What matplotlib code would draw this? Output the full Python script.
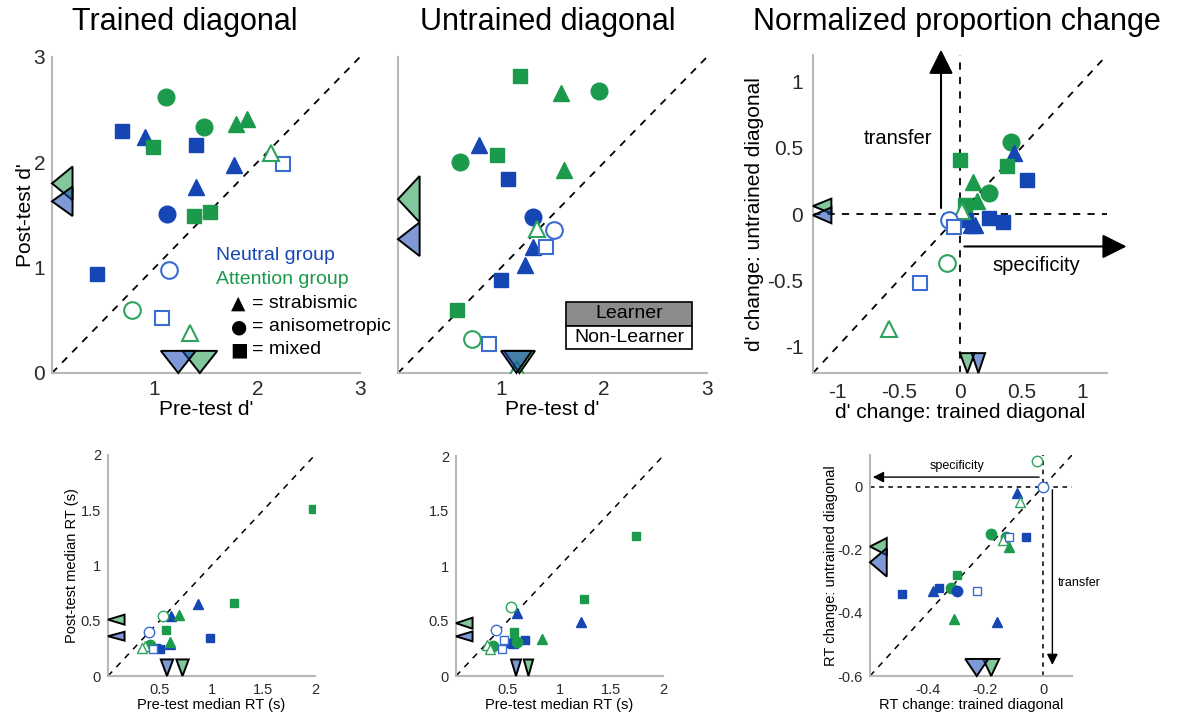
import matplotlib.pyplot as plt
from matplotlib.patches import Rectangle
from matplotlib.colors import to_rgba

plt.rcParams['font.family'] = ['Liberation Sans', 'DejaVu Sans']
plt.rcParams['axes.unicode_minus'] = False

BLUE = '#1546b4'
GREEN = '#1b9a4c'
BLUE_OPEN = '#3b6dd0'
GREEN_OPEN = '#2ea35e'

# codes: first letter N/A = neutral/attention learner (filled), n/a = non-learner (open)
#        second char = marker (s square, o circle, ^ triangle)

# trained diagonal d'
td_pre = [0.68, 1.40, 0.44, 0.91, 1.77, 1.40, 1.12, 1.11, 1.48, 1.79, 1.90, 0.98, 1.38, 1.54,
          1.14, 1.07, 2.25, 0.78, 1.34, 2.13]
td_post = [2.30, 2.16, 0.94, 2.24, 1.97, 1.77, 1.51, 2.62, 2.34, 2.36, 2.41, 2.15, 1.49, 1.53,
           0.98, 0.52, 1.98, 0.60, 0.38, 2.09]
td_code = ['Ns', 'Ns', 'Ns', 'N^', 'N^', 'N^', 'No', 'Ao', 'Ao', 'A^', 'A^', 'As', 'As', 'As',
           'no', 'ns', 'ns', 'ao', 'a^', 'a^']

# untrained diagonal d'
ud_pre = [1.18, 0.96, 0.57, 1.58, 1.61, 1.95, 0.60, 0.79, 1.31, 1.23, 1.07, 1.00, 1.31,
          1.35, 1.16, 1.51, 1.44, 0.88, 0.72]
ud_post = [2.82, 2.07, 0.60, 2.66, 1.93, 2.68, 2.00, 2.16, 1.20, 1.03, 1.84, 0.88, 1.48,
           1.37, 0.04, 1.36, 1.20, 0.28, 0.32]
ud_code = ['As', 'As', 'As', 'A^', 'A^', 'Ao', 'Ao', 'N^', 'N^', 'N^', 'Ns', 'Ns', 'No',
           'a^', 'a^', 'no', 'ns', 'ns', 'ao']

# normalized proportion change
nc_trained = [0.42, 0.24, 0.44, 0.09, 0.12, 0.00, 0.38, 0.04, 0.55, 0.24, 0.35, 0.05, 0.11, 0.14,
              0.02, -0.58, -0.09, -0.05, -0.33, -0.11]
nc_untrained = [0.54, 0.16, 0.46, -0.08, -0.08, 0.41, 0.36, 0.07, 0.26, -0.03, -0.06, -0.045, 0.24, 0.10,
                0.02, -0.87, -0.045, -0.095, -0.52, -0.37]
nc_code = ['Ao', 'Ao', 'N^', 'N^', 'N^', 'As', 'As', 'As', 'Ns', 'Ns', 'Ns', 'Ns', 'A^', 'A^',
           'a^', 'a^', 'no', 'ns', 'ns', 'ao']

# median RT, trained diagonal
rt1_pre = [1.98, 1.22, 0.56, 0.87, 0.61, 0.60, 0.99, 0.50, 0.46, 0.69, 0.60, 0.41,
           0.53, 0.40, 0.36, 0.33, 0.43]
rt1_post = [1.51, 0.66, 0.42, 0.65, 0.54, 0.29, 0.34, 0.24, 0.25, 0.55, 0.31, 0.28,
            0.54, 0.40, 0.27, 0.25, 0.24]
rt1_code = ['As', 'As', 'As', 'N^', 'N^', 'N^', 'Ns', 'Ns', 'Ns', 'A^', 'A^', 'Ao',
            'ao', 'no', 'a^', 'a^', 'ns']

# median RT, untrained diagonal
rt2_pre = [1.74, 1.24, 0.56, 1.21, 0.59, 0.55, 0.83, 0.56, 0.67, 0.52, 0.59, 0.36,
           0.53, 0.39, 0.44, 0.46, 0.30, 0.33]
rt2_post = [1.27, 0.70, 0.40, 0.49, 0.57, 0.30, 0.34, 0.37, 0.33, 0.30, 0.31, 0.27,
            0.63, 0.42, 0.25, 0.33, 0.28, 0.25]
rt2_code = ['As', 'As', 'As', 'N^', 'N^', 'N^', 'A^', 'A^', 'Ns', 'Ns', 'Ao', 'Ao',
            'ao', 'no', 'ns', 'ns', 'a^', 'a^']

# RT change
rc_trained = [-0.09, -0.38, -0.16, -0.06, -0.36, -0.49, -0.18, -0.32, -0.13, -0.12, -0.31, -0.30, -0.30,
              -0.02, 0.00, -0.08, -0.14, -0.12, -0.23]
rc_untrained = [-0.02, -0.33, -0.43, -0.16, -0.32, -0.34, -0.15, -0.32, -0.16, -0.19, -0.42, -0.28, -0.33,
                0.08, 0.00, -0.05, -0.17, -0.16, -0.33]
rc_code = ['N^', 'N^', 'N^', 'Ns', 'Ns', 'Ns', 'Ao', 'Ao', 'Ao', 'A^', 'A^', 'As', 'No',
           'ao', 'no', 'a^', 'a^', 'ns', 'ns']

# group means (attention, neutral) shown as triangles on the axes: mean, half-width
td_post_mean, td_post_hw = [1.80, 1.63], [0.16, 0.14]
td_pre_mean, td_pre_hw = [1.44, 1.23], [0.17, 0.17]
ud_post_mean, ud_post_hw = [1.65, 1.27], [0.22, 0.16]
ud_pre_mean, ud_pre_hw = [1.18, 1.15], [0.15, 0.15]
nc_un_mean, nc_un_hw = [0.06, -0.01], [0.056, 0.06]
nc_tr_mean, nc_tr_hw = [0.06, 0.15], [0.06, 0.055]
rt1_post_mean, rt1_post_hw = [0.51, 0.36], [0.045, 0.04]
rt1_pre_mean, rt1_pre_hw = [0.72, 0.57], [0.06, 0.06]
rt2_post_mean, rt2_post_hw = [0.48, 0.36], [0.05, 0.045]
rt2_pre_mean, rt2_pre_hw = [0.70, 0.58], [0.045, 0.048]
rc_un_mean, rc_un_hw = [-0.19, -0.24], [0.027, 0.045]
rc_tr_mean, rc_tr_hw = [-0.18, -0.23], [0.028, 0.04]

legend_shapes = ['\u25B2', '\u25CF', '\u25A0']
legend_names = ['= strabismic', '= anisometropic', '= mixed']

W, H = 1181, 713
fig = plt.figure(figsize=(W / 100, H / 100), dpi=100)


def make_ax(l, r, t, b):
    return fig.add_axes([l / W, (H - b) / H, (r - l) / W, (b - t) / H])


def style(ax, xlim, ylim, size):
    ax.set_xlim(xlim)
    ax.set_ylim(ylim)
    for s in ['top', 'right']:
        ax.spines[s].set_visible(False)
    for s in ['left', 'bottom']:
        ax.spines[s].set_color('#b8b8b8')
        ax.spines[s].set_linewidth(1.5)
    ax.tick_params(length=0, labelsize=size, colors='#2a2a2a', pad=5)
    ax.patch.set_alpha(0)


def points(ax, xs, ys, codes, big):
    sizes = {'s': 10, 'o': 12, '^': 11.5} if big else {'s': 6, 'o': 7.5, '^': 7.5}
    mew = 1.5 if big else 1.0
    for x, y, c in zip(xs, ys, codes):
        shape = c[1]
        neutral = c[0] in 'Nn'
        if c[0].isupper():
            col = BLUE if neutral else GREEN
            ax.plot(x, y, marker=shape, ms=sizes[shape], mfc=col, mec=col, ls='none', zorder=3)
        else:
            col = BLUE_OPEN if neutral else GREEN_OPEN
            ax.plot(x, y, marker=shape, ms=sizes[shape], mfc='white', mec=col, mew=mew,
                    ls='none', zorder=4)


def means(ax, left_m, left_hw, bot_m, bot_hw, dx, dy):
    x0 = ax.get_xlim()[0]
    y0 = ax.get_ylim()[0]
    fills = [to_rgba(GREEN, 0.55), to_rgba(BLUE, 0.55)]
    for m, h, fc in zip(left_m, left_hw, fills):
        ax.fill([x0, x0 + dx, x0 + dx], [m, m + h, m - h], fc=fc, ec='k', lw=1.4,
                clip_on=False, zorder=6)
    for m, h, fc in zip(bot_m, bot_hw, fills):
        ax.fill([m, m - h, m + h], [y0, y0 + dy, y0 + dy], fc=fc, ec='k', lw=1.4,
                clip_on=False, zorder=6)


def diag(ax, lo, hi, lw=1.3):
    ax.plot([lo, hi], [lo, hi], color='k', ls=(0, (4, 4)), lw=lw, zorder=2)


# ---- top left: trained diagonal
ax1 = make_ax(52, 360, 57, 373)
style(ax1, (0, 3), (0, 3), 15)
diag(ax1, 0, 3)
points(ax1, td_pre, td_post, td_code, True)
means(ax1, td_post_mean, td_post_hw, td_pre_mean, td_pre_hw, 0.2, 0.21)
ax1.set_xticks([1, 2, 3])
ax1.set_yticks([0, 1, 2, 3])
ax1.set_xlabel("Pre-test d'", fontsize=15, labelpad=1)
ax1.set_ylabel("Post-test d'", fontsize=15, labelpad=-1)
ax1.text(1.6, 1.12, 'Neutral group', color=BLUE, fontsize=14, va='center')
ax1.text(1.6, 0.89, 'Attention group', color=GREEN, fontsize=14, va='center')
for i, (sym, name) in enumerate(zip(legend_shapes, legend_names)):
    yy = 0.66 - 0.22 * i
    ax1.text(1.74, yy, sym, fontsize=13.5, va='center', family='DejaVu Sans')
    ax1.text(1.95, yy, name, fontsize=14, va='center')

# ---- top middle: untrained diagonal
ax2 = make_ax(398, 707, 57, 373)
style(ax2, (0, 3), (0, 3), 15)
diag(ax2, 0, 3)
points(ax2, ud_pre, ud_post, ud_code, True)
means(ax2, ud_post_mean, ud_post_hw, ud_pre_mean, ud_pre_hw, 0.21, 0.21)
ax2.set_xticks([1, 2, 3])
ax2.set_yticks([])
ax2.set_xlabel("Pre-test d'", fontsize=15, labelpad=1)
ax2.add_patch(Rectangle((0.544, 0.150), 0.407, 0.076, transform=ax2.transAxes,
                        fc='#8c8c8c', ec='k', lw=1.2, zorder=7))
ax2.add_patch(Rectangle((0.544, 0.075), 0.407, 0.075, transform=ax2.transAxes,
                        fc='white', ec='k', lw=1.2, zorder=7))
ax2.text(0.7475, 0.188, 'Learner', transform=ax2.transAxes, ha='center', va='center',
         fontsize=14, zorder=8)
ax2.text(0.7475, 0.1125, 'Non-Learner', transform=ax2.transAxes, ha='center', va='center',
         fontsize=14, zorder=8)

# ---- top right: normalized proportion change
ax3 = make_ax(813, 1107, 55, 373)
style(ax3, (-1.2, 1.2), (-1.2, 1.2), 15)
ax3.tick_params(pad=7)
diag(ax3, -1.2, 1.2)
ax3.axhline(0, color='k', ls=(0, (4, 4)), lw=1.3, zorder=2)
ax3.axvline(0, color='k', ls=(0, (4, 4)), lw=1.3, zorder=2)
points(ax3, nc_trained, nc_untrained, nc_code, True)
means(ax3, nc_un_mean, nc_un_hw, nc_tr_mean, nc_tr_hw, 0.15, 0.15)
ax3.set_xticks([-1, -0.5, 0, 0.5, 1])
ax3.set_xticklabels(['-1', '-0.5', '0', '0.5', '1'])
ax3.set_yticks([-1, -0.5, 0, 0.5, 1])
ax3.set_yticklabels(['-1', '-0.5', '0', '0.5', '1'])
ax3.set_xlabel("d' change: trained diagonal", fontsize=15, labelpad=1)
ax3.set_ylabel("d' change: untrained diagonal", fontsize=15, labelpad=2)
big_arrow = dict(arrowstyle='-|>,head_length=0.5,head_width=0.25', color='k', lw=1.5,
                 mutation_scale=30, shrinkA=0, shrinkB=0)
ax3.annotate('', xy=(-0.155, 1.24), xytext=(-0.155, 0.045), arrowprops=big_arrow,
             annotation_clip=False)
ax3.annotate('', xy=(1.36, -0.245), xytext=(0.035, -0.245), arrowprops=big_arrow,
             annotation_clip=False)
ax3.text(-0.51, 0.57, 'transfer', fontsize=14.5, ha='center', va='center')
ax3.text(0.62, -0.39, 'specificity', fontsize=14.5, ha='center', va='center')

# ---- bottom left: median RT trained
ax4 = make_ax(108, 315, 455, 676)
style(ax4, (0, 2), (0, 2), 10.5)
diag(ax4, 0, 2, 1.1)
points(ax4, rt1_pre, rt1_post, rt1_code, False)
means(ax4, rt1_post_mean, rt1_post_hw, rt1_pre_mean, rt1_pre_hw, 0.16, 0.15)
ax4.set_xticks([0.5, 1, 1.5, 2])
ax4.set_xticklabels(['0.5', '1', '1.5', '2'])
ax4.set_yticks([0, 0.5, 1, 1.5, 2])
ax4.set_yticklabels(['0', '0.5', '1', '1.5', '2'])
ax4.set_xlabel('Pre-test median RT (s)', fontsize=10.5, labelpad=1)
ax4.set_ylabel('Post-test median RT (s)', fontsize=10.5, labelpad=1)

# ---- bottom middle: median RT untrained
ax5 = make_ax(456, 663, 456, 676)
style(ax5, (0, 2), (0, 2), 10.5)
diag(ax5, 0, 2, 1.1)
points(ax5, rt2_pre, rt2_post, rt2_code, False)
means(ax5, rt2_post_mean, rt2_post_hw, rt2_pre_mean, rt2_pre_hw, 0.16, 0.15)
ax5.set_xticks([0.5, 1, 1.5, 2])
ax5.set_xticklabels(['0.5', '1', '1.5', '2'])
ax5.set_yticks([0, 0.5, 1, 1.5, 2])
ax5.set_yticklabels(['0', '0.5', '1', '1.5', '2'])
ax5.set_xlabel('Pre-test median RT (s)', fontsize=10.5, labelpad=1)

# ---- bottom right: RT change
ax6 = make_ax(870, 1072, 455, 676)
style(ax6, (-0.6, 0.1), (-0.6, 0.1), 10.5)
diag(ax6, -0.6, 0.1, 1.1)
ax6.axhline(0, color='k', ls=(0, (3, 3)), lw=1.1, zorder=2)
ax6.axvline(0, color='k', ls=(0, (3, 3)), lw=1.1, zorder=2)
points(ax6, rc_trained, rc_untrained, rc_code, False)
means(ax6, rc_un_mean, rc_un_hw, rc_tr_mean, rc_tr_hw, 0.058, 0.054)
ax6.set_xticks([-0.4, -0.2, 0])
ax6.set_xticklabels(['-0.4', '-0.2', '0'])
ax6.set_yticks([-0.6, -0.4, -0.2, 0])
ax6.set_yticklabels(['-0.6', '-0.4', '-0.2', '0'])
ax6.set_xlabel('RT change: trained diagonal', fontsize=10.5, labelpad=1)
ax6.set_ylabel('RT change: untrained diagonal', fontsize=10.5, labelpad=0)
small_arrow = dict(arrowstyle='-|>,head_length=0.5,head_width=0.25', color='k', lw=1.0,
                   mutation_scale=13, shrinkA=0, shrinkB=0)
ax6.annotate('', xy=(-0.59, 0.03), xytext=(-0.014, 0.03), arrowprops=small_arrow,
             annotation_clip=False)
ax6.annotate('', xy=(0.032, -0.565), xytext=(0.032, -0.01), arrowprops=small_arrow,
             annotation_clip=False)
ax6.text(-0.30, 0.065, 'specificity', fontsize=9, ha='center', va='center')
ax6.text(0.125, -0.305, 'transfer', fontsize=9, ha='center', va='center')

# titles
fig.text(185 / W, 1 - 22 / H, 'Trained diagonal', fontsize=22, ha='center', va='center')
fig.text(548 / W, 1 - 22 / H, 'Untrained diagonal', fontsize=22, ha='center', va='center')
fig.text(957 / W, 1 - 22 / H, 'Normalized proportion change', fontsize=22, ha='center', va='center')

fig.savefig('out.png', dpi=100)
